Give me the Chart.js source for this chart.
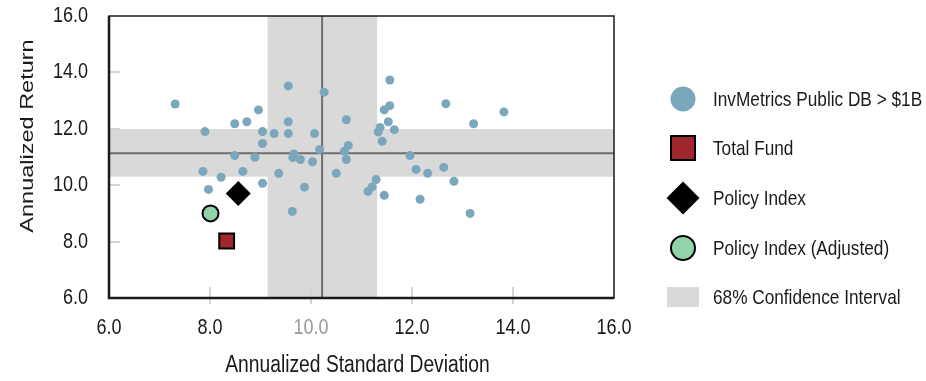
<!DOCTYPE html>
<html>
<head>
<meta charset="utf-8">
<script src="https://cdn.jsdelivr.net/npm/chart.js@4.4.1/dist/chart.umd.min.js"></script>
<style>
    html, body { margin: 0; padding: 0; background: #fff; }
    #wrap { width: 926px; height: 381px; position: relative; }
</style>
</head>
<body>
<div id="wrap"><canvas id="riskReturnChart"></canvas></div>
<script>
// Peer universe (InvMetrics Public DB > $1B)
const peerStdDev = [7.31, 9.55, 10.26, 8.96, 8.49, 8.73, 9.55, 10.70, 7.90, 9.04,
    9.27, 9.55, 10.07, 9.04, 10.74, 10.66, 10.17, 8.49, 8.89, 9.66,
    9.64, 9.79, 10.03, 10.70, 7.86, 8.22, 8.65, 9.04, 9.36, 10.50,
    7.97, 9.87, 9.63, 11.56, 12.67, 11.56, 11.45, 13.22, 11.53, 11.37,
    11.33, 11.65, 11.41, 11.96, 12.08, 12.31, 12.63, 12.83, 11.29, 11.21,
    11.13, 11.45, 12.16, 13.15, 13.82];
const peerReturn = [12.88, 13.52, 13.30, 12.67, 12.18, 12.25, 12.25, 12.32, 11.90, 11.90,
    11.83, 11.83, 11.83, 11.48, 11.41, 11.20, 11.27, 11.05, 10.99, 11.11,
    10.98, 10.91, 10.83, 10.91, 10.49, 10.28, 10.49, 10.07, 10.42, 10.42,
    9.85, 9.93, 9.07, 13.73, 12.89, 12.82, 12.67, 12.18, 12.25, 12.05,
    11.89, 11.97, 11.56, 11.05, 10.56, 10.42, 10.63, 10.14, 10.20, 9.94,
    9.78, 9.64, 9.50, 9.00, 12.60];

// Highlighted portfolios
const fundLabels = ['Total Fund', 'Policy Index', 'Policy Index (Adjusted)'];
const fundStdDev = [8.33, 8.56, 8.01];
const fundReturn = [8.02, 9.71, 9.00];

// 68% confidence interval and peer medians
const ciStdDev = [9.14, 11.31];
const ciReturn = [10.30, 11.99];
const medianStdDev = 10.22;
const medianReturn = 11.13;

const axisMin = 6;
const axisMax = 16;
const axisStep = 2;

const xTitle = 'Annualized Standard Deviation';
const yTitle = 'Annualized Return';
const peerLabel = 'InvMetrics Public DB > $1B';
const bandLabel = '68% Confidence Interval';

const FONT = '"Liberation Sans", Arial, sans-serif';
const SQUEEZE = 0.82;   // text in the reference is horizontally condensed
const TEXT_COLOR = '#1a1a1a';
const PEER_COLOR = '#7ba7bc';
const FUND_COLOR = '#a0262d';
const ADJ_COLOR = '#92d4a9';
const BAND_COLOR = '#d9d9d9';

function toPoints(xs, ys) {
    return xs.map((v, i) => ({ x: v, y: ys[i] }));
}

// draw condensed text at (x, y)
function narrowText(ctx, text, x, y, size, align, color) {
    ctx.save();
    ctx.translate(x, y);
    ctx.scale(SQUEEZE, 1);
    ctx.font = size + 'px ' + FONT;
    ctx.fillStyle = color || TEXT_COLOR;
    ctx.textAlign = align;
    ctx.textBaseline = 'middle';
    ctx.fillText(text, 0, 0);
    ctx.restore();
}

// Bands, median lines, inner ticks and plot frame
const backdropPlugin = {
    id: 'backdrop',
    beforeDatasetsDraw(chart) {
        const { ctx, chartArea: a, scales: { x, y } } = chart;
        ctx.save();

        ctx.fillStyle = BAND_COLOR;
        const bx0 = x.getPixelForValue(ciStdDev[0]);
        const bx1 = x.getPixelForValue(ciStdDev[1]);
        ctx.fillRect(bx0, a.top, bx1 - bx0, a.bottom - a.top);
        const by0 = y.getPixelForValue(ciReturn[1]);
        const by1 = y.getPixelForValue(ciReturn[0]);
        ctx.fillRect(a.left, by0, a.right - a.left, by1 - by0);

        // short tick marks on the inside of the frame
        ctx.strokeStyle = '#d4d4d4';
        ctx.lineWidth = 2;
        ctx.beginPath();
        x.ticks.forEach(t => {
            if (t.value <= x.min || t.value >= x.max) return;
            const px = Math.round(x.getPixelForValue(t.value));
            ctx.moveTo(px, a.bottom - 11);
            ctx.lineTo(px, a.bottom + 6);
        });
        y.ticks.forEach(t => {
            if (t.value <= y.min || t.value >= y.max) return;
            const py = Math.round(y.getPixelForValue(t.value));
            ctx.moveTo(a.left, py);
            ctx.lineTo(a.left + 11, py);
        });
        ctx.stroke();

        // medians
        ctx.strokeStyle = '#6e6e6e';
        ctx.lineWidth = 2;
        ctx.beginPath();
        const mx = x.getPixelForValue(medianStdDev);
        const my = y.getPixelForValue(medianReturn);
        ctx.moveTo(mx, a.top);
        ctx.lineTo(mx, a.bottom);
        ctx.moveTo(a.left, my);
        ctx.lineTo(a.right, my);
        ctx.stroke();

        // frame
        ctx.strokeStyle = '#1a1a1a';
        ctx.lineWidth = 1.5;
        ctx.strokeRect(a.left, a.top, a.right - a.left, a.bottom - a.top);
        ctx.lineWidth = 2.5;
        ctx.beginPath();
        ctx.moveTo(a.left, a.top);
        ctx.lineTo(a.left, a.bottom);
        ctx.lineTo(a.right, a.bottom);
        ctx.stroke();
        ctx.restore();
    }
};

// Tick labels and axis titles, condensed like the reference
const axisTextPlugin = {
    id: 'axisText',
    afterDraw(chart) {
        const { ctx, chartArea: a, scales: { x, y } } = chart;
        x.ticks.forEach(t => {
            const color = t.value === 10 ? '#9a9a9a' : TEXT_COLOR;
            narrowText(ctx, t.value.toFixed(1), x.getPixelForValue(t.value), a.bottom + 30, 22, 'center', color);
        });
        y.ticks.forEach(t => {
            narrowText(ctx, t.value.toFixed(1), a.left - 21, y.getPixelForValue(t.value), 22, 'right');
        });
        narrowText(ctx, xTitle, (a.left + a.right) / 2 - 4, a.bottom + 68, 23.5, 'center');

        ctx.save();
        ctx.translate(28, 136);
        ctx.scale(SQUEEZE, 1);
        ctx.rotate(-Math.PI / 2);
        ctx.font = '23.5px ' + FONT;
        ctx.fillStyle = TEXT_COLOR;
        ctx.textAlign = 'center';
        ctx.textBaseline = 'middle';
        ctx.fillText(yTitle, 0, 0);
        ctx.restore();
    }
};

// Legend drawn on the right of the plot
const sideLegendPlugin = {
    id: 'sideLegend',
    afterDraw(chart) {
        const ctx = chart.ctx;
        const mx = 683;
        const tx = 713;
        const rows = [99, 148, 198, 248, 297];
        ctx.save();

        ctx.fillStyle = PEER_COLOR;
        ctx.beginPath();
        ctx.arc(mx, rows[0], 12.5, 0, Math.PI * 2);
        ctx.fill();

        ctx.fillStyle = FUND_COLOR;
        ctx.strokeStyle = '#000';
        ctx.lineWidth = 2;
        ctx.fillRect(mx - 12, rows[1] - 12, 24, 24);
        ctx.strokeRect(mx - 12, rows[1] - 12, 24, 24);

        ctx.fillStyle = '#000';
        ctx.beginPath();
        ctx.moveTo(mx, rows[2] - 16.5);
        ctx.lineTo(mx + 16.5, rows[2]);
        ctx.lineTo(mx, rows[2] + 16.5);
        ctx.lineTo(mx - 16.5, rows[2]);
        ctx.closePath();
        ctx.fill();

        ctx.fillStyle = ADJ_COLOR;
        ctx.beginPath();
        ctx.arc(mx, rows[3], 12, 0, Math.PI * 2);
        ctx.fill();
        ctx.stroke();

        ctx.fillStyle = BAND_COLOR;
        ctx.fillRect(mx - 16, rows[4] - 10, 32, 20);
        ctx.restore();

        const names = [peerLabel].concat(fundLabels, [bandLabel]);
        names.forEach((n, i) => narrowText(ctx, n, tx, rows[i] + 1, 21, 'left'));
    }
};

const ctx = document.getElementById('riskReturnChart').getContext('2d');

const chart = new Chart(ctx, {
    type: 'scatter',
    data: {
        datasets: [
            {
                label: peerLabel,
                data: toPoints(peerStdDev, peerReturn),
                backgroundColor: PEER_COLOR,
                borderWidth: 0,
                pointRadius: 4.5,
                order: 4
            },
            {
                label: fundLabels[2],
                data: [{ x: fundStdDev[2], y: fundReturn[2] }],
                backgroundColor: ADJ_COLOR,
                borderColor: '#000',
                borderWidth: 2,
                pointRadius: 8,
                order: 3
            },
            {
                label: fundLabels[1],
                data: [{ x: fundStdDev[1], y: fundReturn[1] }],
                backgroundColor: '#000',
                borderColor: '#000',
                borderWidth: 0,
                pointStyle: 'rectRot',
                pointRadius: 12.5,
                order: 2
            },
            {
                label: fundLabels[0],
                data: [{ x: fundStdDev[0], y: fundReturn[0] }],
                backgroundColor: FUND_COLOR,
                borderColor: '#000',
                borderWidth: 2,
                pointStyle: 'rect',
                pointRadius: 10.5,
                order: 1
            }
        ]
    },
    options: {
        responsive: true,
        maintainAspectRatio: false,
        animation: false,
        layout: {
            padding: { left: 0, right: 312, top: 16, bottom: 0 }
        },
        plugins: {
            legend: { display: false },
            tooltip: { enabled: false }
        },
        scales: {
            x: {
                type: 'linear',
                min: axisMin,
                max: axisMax,
                afterFit: s => { s.height = 83; },
                grid: { display: false, drawTicks: false },
                border: { display: false },
                ticks: { display: false, stepSize: axisStep }
            },
            y: {
                type: 'linear',
                min: axisMin,
                max: axisMax,
                afterFit: s => { s.width = 109; },
                grid: { display: false, drawTicks: false },
                border: { display: false },
                ticks: { display: false, stepSize: axisStep }
            }
        }
    },
    plugins: [backdropPlugin, axisTextPlugin, sideLegendPlugin]
});
</script>
</body>
</html>
